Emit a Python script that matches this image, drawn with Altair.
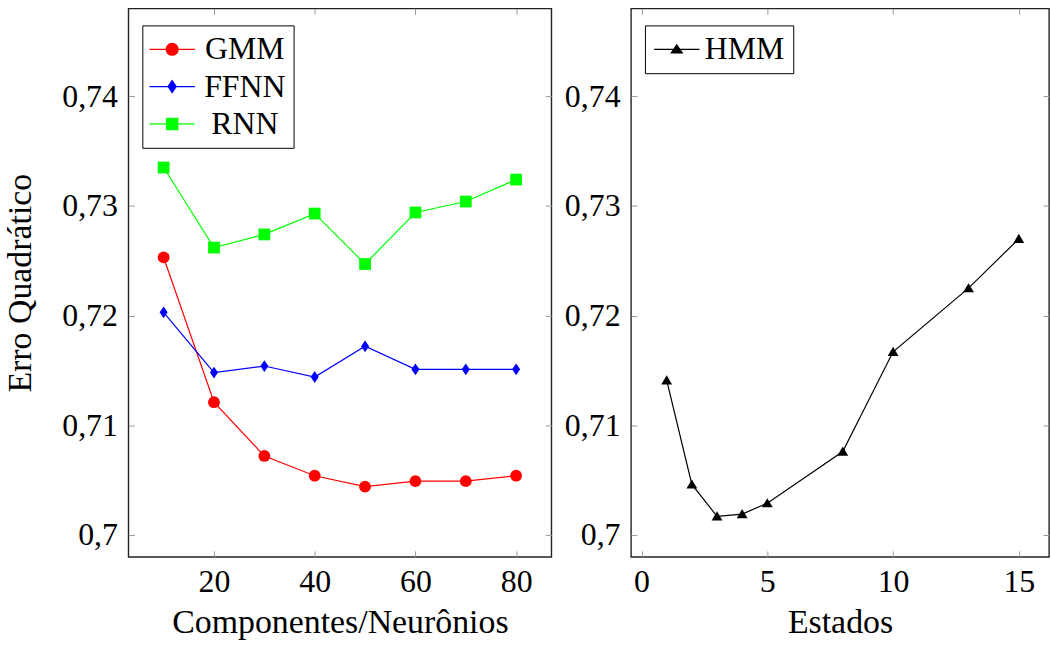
import altair as alt
import pandas as pd

# ---------------- data ----------------
comp = [10, 20, 30, 40, 50, 60, 70, 80]
gmm = [0.7253, 0.7121, 0.7072, 0.7054, 0.7044, 0.7049, 0.7049, 0.7054]
ffnn = [0.7203, 0.7148, 0.7154, 0.7144, 0.7172, 0.7151, 0.7151, 0.7151]
rnn = [0.7335, 0.7262, 0.7274, 0.7293, 0.7247, 0.7294, 0.7304, 0.7324]

estados = [1, 2, 3, 4, 5, 8, 10, 13, 15]
hmm = [0.7141, 0.7046, 0.7017, 0.7019, 0.7029, 0.7076, 0.7167, 0.7225, 0.7270]

series_left = ["GMM", "FFNN", "RNN"]
colors_left = ["#ff0000", "#0000ff", "#00ff00"]
series_right = ["HMM"]
colors_right = ["#000000"]

y_ticks = [0.70, 0.71, 0.72, 0.73, 0.74]
x_ticks_left = [20, 40, 60, 80]
x_ticks_right = [0, 5, 10, 15]

x_title_left = "Componentes/Neurônios"
x_title_right = "Estados"
y_title = "Erro Quadrático"

# ---------------- tables ----------------
df_left = pd.DataFrame({
    "x": comp * 3,
    "erro": gmm + ffnn + rnn,
    "serie": [s for s in series_left for _ in comp],
})
df_right = pd.DataFrame({
    "x": estados,
    "erro": hmm,
    "serie": series_right * len(estados),
})

# ---------------- styling ----------------
FONT = "Liberation Serif"
TICK = "#9a9a9a"
LABEL_EXPR = "replace(format(datum.value, '.2~f'), '.', ',')"
Y_DOMAIN = [0.698, 0.748]
H = 551

DIAMOND = "M0,-1L0.68,0L0,1L-0.68,0Z"
TRIANGLE = "M0,-0.85L0.92,0.7L-0.92,0.7Z"
L = "M-3.8,0H3.8"
LEG_CIRCLE = L + "M1,0A1,1 0 1,1 -1,0A1,1 0 1,1 1,0Z"
LEG_DIAMOND = L + "M0,-1L0.68,0L0,1L-0.68,0Z"
LEG_SQUARE = L + "M-0.95,-0.95H0.95V0.95H-0.95Z"
LEG_TRIANGLE = L + "M0,-0.75L0.92,0.6L-0.92,0.6Z"


def axis_bottom(values, title):
    return alt.Axis(orient="bottom", values=values, offset=-6, tickSize=6,
                    tickColor=TICK, tickWidth=1, domain=False, grid=False,
                    labelFont=FONT, labelFontSize=32, labelColor="black",
                    labelPadding=10, labelFlush=False, labelOverlap=False,
                    title=title, titleFont=FONT, titleFontSize=34,
                    titleFontWeight="normal", titleColor="black", titlePadding=8)


def axis_top(values):
    return alt.Axis(orient="top", values=values, offset=-6, tickSize=6,
                    tickColor=TICK, tickWidth=1, domain=False, grid=False,
                    labels=False, title=None)


def axis_left(title):
    kw = dict(orient="left", values=y_ticks, labelExpr=LABEL_EXPR,
              offset=-6, tickSize=6, tickColor=TICK, tickWidth=1,
              domain=False, grid=False, labelFont=FONT, labelFontSize=32,
              labelColor="black", labelPadding=11, labelFlush=False,
              labelOverlap=False)
    if title:
        return alt.Axis(title=title, titleFont=FONT, titleFontSize=34,
                        titleFontWeight="normal", titleColor="black",
                        titlePadding=24, **kw)
    return alt.Axis(title=None, **kw)


def axis_right():
    return alt.Axis(orient="right", values=y_ticks, offset=-6, tickSize=6,
                    tickColor=TICK, tickWidth=1, domain=False, grid=False,
                    labels=False, title=None)


def legend(label_offset, symbol_offset):
    return alt.Legend(title=None, orient="none", legendX=14, legendY=17,
                      direction="vertical", strokeColor="black", fillColor="white",
                      padding=8, symbolSize=144, symbolStrokeWidth=1.2,
                      symbolOffset=symbol_offset, labelOffset=label_offset,
                      labelAlign="center", labelFont=FONT, labelFontSize=32,
                      labelColor="black", rowPadding=5.5, symbolOpacity=1)


def panel(df, x_domain, x_ticks, x_title, series, colors, shapes, leg_shapes,
          width, y_title_text, leg_label_offset, leg_symbol_offset):
    xs = alt.Scale(domain=x_domain, nice=False, zero=False)
    ys = alt.Scale(domain=Y_DOMAIN, nice=False, zero=False)
    base = alt.Chart(df)
    # data-driven colour scale (ordered by `series`) for the plotted marks
    col = alt.Color("serie:N", sort=series, scale=alt.Scale(range=colors), legend=None)

    layers = [base.mark_line(strokeWidth=1.2, clip=False).encode(
        x=alt.X("x:Q", scale=xs, axis=axis_bottom(x_ticks, x_title)),
        y=alt.Y("erro:Q", scale=ys, axis=axis_left(y_title_text)),
        color=col,
        detail="serie:N",
    )]
    for i, (s, shp) in enumerate(zip(series, shapes)):
        first = i == 0
        layers.append(
            base.transform_filter(alt.datum.serie == s)
            .mark_point(filled=True, opacity=1, size=140, shape=shp, clip=False)
            .encode(
                x=alt.X("x:Q", scale=xs, axis=axis_top(x_ticks) if first else None),
                y=alt.Y("erro:Q", scale=ys, axis=axis_right() if first else None),
                color=col,
            )
        )
    leg = legend(leg_label_offset, leg_symbol_offset)
    # legend-only layer: its marks sit far outside the y domain and are clipped
    layers.append(
        base.transform_calculate(fora="datum.erro - 1").mark_point(
            filled=True, size=144, strokeWidth=1.2, opacity=1, clip=True
        ).encode(
            x=alt.X("x:Q", scale=xs, axis=None),
            y=alt.Y("fora:Q", scale=ys, axis=None),
            fill=alt.Fill("serie:N", scale=alt.Scale(domain=series, range=colors), legend=leg),
            stroke=alt.Stroke("serie:N", scale=alt.Scale(domain=series, range=colors), legend=leg),
            shape=alt.Shape("serie:N", scale=alt.Scale(domain=series, range=leg_shapes), legend=leg),
        )
    )
    return alt.layer(*layers).resolve_axis(
        x="independent", y="independent"
    ).properties(width=width, height=H)


left = panel(df_left, [3, 87], x_ticks_left, x_title_left, series_left, colors_left,
             ["circle", DIAMOND, "square"], [LEG_CIRCLE, LEG_DIAMOND, LEG_SQUARE],
             425, y_title, 57, 6)
right = panel(df_right, [-0.42, 16.2], x_ticks_right, x_title_right, series_right,
              colors_right, [TRIANGLE], [LEG_TRIANGLE], 420, None, 52, 8)

chart = alt.hconcat(left, right, spacing=10).resolve_scale(
    x="independent", y="independent", color="independent", fill="independent",
    stroke="independent", shape="independent",
).properties(
    padding={"left": 3, "top": 5, "right": 0, "bottom": 0},
    background="white",
).configure_view(stroke="#222222", strokeWidth=1.4)

chart.save("out.html", embed_options={"renderer": "svg", "actions": False})
